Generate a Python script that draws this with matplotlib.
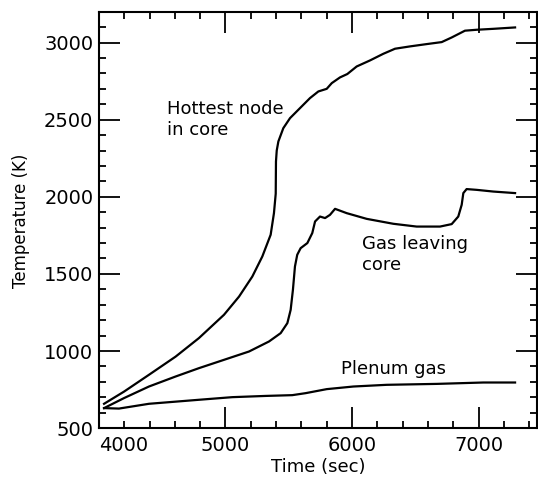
import numpy as np
import matplotlib.pyplot as plt
from matplotlib.ticker import MultipleLocator

# hottest node in core
t_hot = [4040, 4198, 4395, 4606, 4790, 4988, 5107, 5212, 5291, 5357, 5383, 5397,
         5399, 5405, 5418, 5457, 5510, 5589, 5668, 5734, 5800, 5840, 5905, 5963,
         6037, 6142, 6247, 6340, 6458, 6590, 6709, 6788, 6893, 6986, 7117, 7289]
T_hot = [658, 737, 846, 964, 1084, 1235, 1353, 1483, 1613, 1754, 1894, 2020,
         2229, 2300, 2359, 2445, 2510, 2575, 2640, 2683, 2700, 2737, 2774, 2796,
         2845, 2884, 2927, 2960, 2975, 2990, 3003, 3033, 3077, 3083, 3089, 3098]

# gas leaving core
t_gas = [4040, 4198, 4395, 4606, 4790, 4988, 5186, 5344, 5436, 5489, 5515, 5533,
         5549, 5567, 5594, 5647, 5686, 5708, 5747, 5787, 5826, 5866, 5958, 6116,
         6327, 6511, 6696, 6788, 6840, 6867, 6880, 6906, 6986, 7117, 7289]
T_gas = [630, 695, 770, 835, 889, 943, 997, 1062, 1116, 1181, 1267, 1397,
         1548, 1624, 1667, 1700, 1765, 1840, 1872, 1862, 1883, 1922, 1894, 1857,
         1825, 1807, 1807, 1823, 1872, 1948, 2024, 2050, 2045, 2034, 2024]

# plenum gas
t_plen = [4040, 4158, 4395, 4790, 5054, 5318, 5528, 5634, 5800, 6011, 6274, 6669, 7038, 7289]
T_plen = [630, 627, 658, 684, 701, 709, 714, 727, 753, 770, 781, 787, 796, 796]

fig = plt.figure(figsize=(5.38, 4.80), dpi=100)
ax = fig.add_axes([0.184, 0.108, 0.815, 0.866])

for t, T in [(t_hot, T_hot), (t_gas, T_gas), (t_plen, T_plen)]:
    ax.plot(t, T, color='black', lw=1.6, solid_joinstyle='round')

ax.set_xlim(4000, 7466)
ax.set_ylim(500, 3195)

ax.xaxis.set_major_locator(MultipleLocator(1000))
ax.xaxis.set_minor_locator(MultipleLocator(200))
ax.yaxis.set_major_locator(MultipleLocator(500))
ax.yaxis.set_minor_locator(MultipleLocator(100))
ax.tick_params(which='both', direction='in', top=True, right=True, width=1.3, labelsize=14)
ax.tick_params(which='major', length=15)
ax.tick_params(which='minor', length=5)
ax.tick_params(axis='y', pad=4)
ax.tick_params(axis='x', pad=6)
for s in ax.spines.values():
    s.set_linewidth(1.5)

# 4000 label drawn a bit to the right, as in the original
ax.set_xticks([5000, 6000, 7000])
ax.annotate('4000', xy=(4000, 0), xycoords=('data', 'axes fraction'),
            xytext=(18, -6), textcoords='offset points', ha='center', va='top', fontsize=14)

ax.set_xlabel('Time (sec)', fontsize=13, labelpad=2)
ax.set_ylabel('Temperature (K)', fontsize=12, labelpad=10)

ax.text(4538, 2629, 'Hottest node\nin core', fontsize=13, va='top', ha='left')
ax.text(6079, 1753, 'Gas leaving\ncore', fontsize=13, va='top', ha='left')
ax.text(5913, 943, 'Plenum gas', fontsize=13, va='top', ha='left')

fig.savefig('out.png', dpi=100)
